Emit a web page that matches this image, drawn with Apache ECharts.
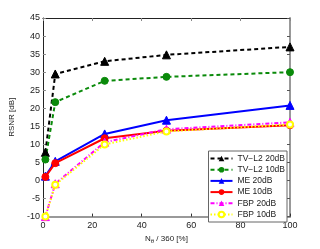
<!DOCTYPE html>
<html><head><meta charset="utf-8">
<script src="https://cdn.jsdelivr.net/npm/echarts@6/dist/echarts.min.js"></script>
<style>html,body{margin:0;padding:0;background:#fff}#c{width:320px;height:249px}</style>
</head><body><div id="c"></div>
<script>
const xValues = [1, 5, 25, 50, 100];
const tvl2_20 = [7.8, 29.5, 33.0, 34.8, 37.0];
const tvl2_10 = [5.8, 21.7, 27.6, 28.7, 30.0];
const me_20 = [1.2, 5.3, 12.9, 16.7, 20.8];
const me_10 = [1.0, 4.8, 11.7, 13.8, 15.3];
const fbp_20 = [-10.0, -0.9, 10.6, 14.2, 16.1];
const fbp_10 = [-10.0, -1.2, 10.0, 13.6, 15.5];
const seriesNames = ['TV\u2212L2 20dB', 'TV\u2212L2 10dB', 'ME 20dB', 'ME 10dB', 'FBP 20dB', 'FBP 10dB'];

const pair = v => xValues.map((x, i) => [x, v[i]]);
const chart = echarts.init(document.getElementById('c'), null, {renderer: 'canvas'});
const font = 'Liberation Sans, Arial, sans-serif';
function mk(name, data, color, type, symbol, size, extra) {
  return Object.assign({
    name, type: 'line', data: pair(data), symbol, symbolSize: size,
    lineStyle: {color, width: 2, type},
    itemStyle: {color, borderColor: color},
    animation: false, z: 3
  }, extra || {});
}
chart.setOption({
  animation: false,
  grid: {left: 41, right: 30, top: 18, bottom: 28, containLabel: false},
  xAxis: [{
    type: 'value', min: 0, max: 100, interval: 20, position: 'bottom',
    axisLine: {onZero: false, lineStyle: {color: '#999', width: 2}},
    axisTick: {inside: true, length: 3, lineStyle: {color: '#333'}},
    axisLabel: {color: '#222', fontSize: 9, fontFamily: font, margin: 4},
    splitLine: {show: false},
    name: '{a|N}{s|θ}{a| / 360 [%]}', nameLocation: 'middle', nameGap: 16,
    nameTextStyle: {rich: {a: {fontSize: 8, fontFamily: font, color: '#222'}, s: {fontSize: 6, fontFamily: font, color: '#222', padding: [5, 0, 0, 0]}}}
  }, {
    type: 'value', min: 0, max: 100, interval: 20, position: 'top',
    axisLine: {onZero: false, lineStyle: {color: '#222', width: 1}},
    axisTick: {inside: true, length: 3, lineStyle: {color: '#888'}},
    axisLabel: {show: false}, splitLine: {show: false}
  }],
  yAxis: [{
    type: 'value', min: -10, max: 45, interval: 5, position: 'left',
    axisLine: {onZero: false, show: true, lineStyle: {color: '#222', width: 1}},
    axisTick: {show: true, inside: true, length: 3, lineStyle: {color: '#888'}},
    axisLabel: {color: '#222', fontSize: 9, fontFamily: font, margin: 3},
    splitLine: {show: false},
    name: 'RSNR [dB]', nameLocation: 'middle', nameGap: 23, nameRotate: 90,
    nameTextStyle: {fontSize: 8, fontFamily: font, color: '#222'}
  }, {
    type: 'value', min: -10, max: 45, interval: 5, position: 'right',
    axisLine: {onZero: false, show: true, lineStyle: {color: '#999', width: 2}},
    axisTick: {show: true, inside: true, length: 3, lineStyle: {color: '#555'}},
    axisLabel: {show: false}, splitLine: {show: false}
  }],
  legend: {
    right: 33, top: 151, orient: 'vertical', itemGap: 2.2, itemWidth: 22, itemHeight: 7,
    padding: [3, 2, 3, 1], backgroundColor: '#fff', borderColor: '#666', borderWidth: 1,
    textStyle: {fontSize: 8.5, fontFamily: font, color: '#222'},
    data: seriesNames
  },
  series: [
    mk(seriesNames[0], tvl2_20, '#000000', [4, 3], 'triangle', 8),
    mk(seriesNames[1], tvl2_10, '#0a8a0a', [4, 3], 'circle', 7),
    mk(seriesNames[2], me_20, '#0000ff', 'solid', 'triangle', 8),
    mk(seriesNames[3], me_10, '#ff0000', 'solid', 'circle', 7),
    mk(seriesNames[4], fbp_20, '#ff00ff', [4, 2, 1, 2], 'triangle', 8),
    mk(seriesNames[5], fbp_10, '#ffff00', [1.5, 2], 'emptyCircle', 6)
  ]
});
</script></body></html>
